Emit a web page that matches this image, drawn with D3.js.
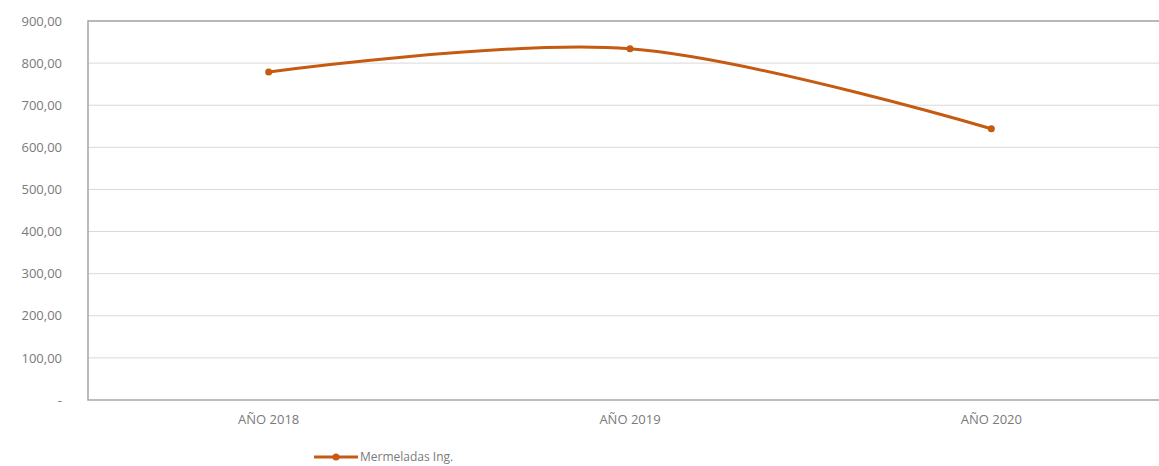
<!DOCTYPE html>
<html>
<head>
<meta charset="utf-8">
<script src="https://cdn.jsdelivr.net/npm/d3@7"></script>
<style>
  body { margin: 0; background: #fff; }
  text { font-family: "Open Sans", "DejaVu Sans", sans-serif; }
</style>
</head>
<body>
<script>
const categories = ["AÑO 2018", "AÑO 2019", "AÑO 2020"]
const seriesName = "Mermeladas Ing."
const seriesValues = [779, 834, 644]
const yTicks = [0, 100, 200, 300, 400, 500, 600, 700, 800, 900]

window.onload = function () {

    const width = 1159, height = 466
    const margin = {top: 21, left: 88, bottom: 66}
    const plotRight = 1172
    const lineColor = "#c55a11"
    const textColor = "#7a7a7a"

    const svg = d3.select('body').append('svg')
        .attr('width', width)
        .attr('height', height)

    const x = d3.scaleBand()
        .domain(categories)
        .range([margin.left, plotRight])

    const y = d3.scaleLinear()
        .domain([0, 900])
        .range([height - margin.bottom, margin.top])

    function fmt(v){
        if (v === 0) return "-"
        return d3.format(",.2f")(v).replace(/,/g, "X").replace(".", ",").replace(/X/g, ".")
    }

    // gridlines
    svg.append('g')
        .selectAll('line')
        .data(yTicks.filter(d => d > 0))
        .join('line')
        .attr('x1', margin.left)
        .attr('x2', plotRight)
        .attr('y1', d => y(d))
        .attr('y2', d => y(d))
        .attr('stroke', '#d9d9d9')
        .attr('stroke-width', 1)

    // plot border
    svg.append('rect')
        .attr('x', margin.left)
        .attr('y', margin.top)
        .attr('width', plotRight - margin.left)
        .attr('height', y(0) - margin.top)
        .attr('fill', 'none')
        .attr('stroke', '#a6a6a6')
        .attr('stroke-width', 1.5)

    // y axis labels
    const yAxis = svg.append('g')
        .attr('transform', getTranslateString(margin.left, 0))
        .call(d3.axisLeft(y).tickValues(yTicks).tickFormat(fmt).tickSize(0).tickPadding(26))
    yAxis.select('.domain').remove()
    yAxis.selectAll('text')
        .style('font-size', '13px')
        .attr('fill', textColor)

    // x axis labels
    const xAxis = svg.append('g')
        .attr('transform', getTranslateString(0, y(0)))
        .call(d3.axisBottom(x).tickSize(0).tickPadding(15))
    xAxis.select('.domain').remove()
    xAxis.selectAll('text')
        .style('font-size', '13px')
        .attr('fill', textColor)

    const points = categories.map((c, i) => ({cat: c, value: seriesValues[i]}))

    const line = d3.line()
        .x(d => x(d.cat) + x.bandwidth() / 2)
        .y(d => y(d.value))
        .curve(d3.curveCatmullRom.alpha(0.5))

    svg.append('path')
        .datum(points)
        .attr('d', line)
        .attr('fill', 'none')
        .attr('stroke', lineColor)
        .attr('stroke-width', 3)

    svg.append('g')
        .selectAll('circle')
        .data(points)
        .join('circle')
        .attr('cx', d => x(d.cat) + x.bandwidth() / 2)
        .attr('cy', d => y(d.value))
        .attr('r', 3.5)
        .attr('fill', lineColor)

    // legend
    const legend = svg.append('g')
        .attr('transform', getTranslateString(314, 457))
    legend.append('line')
        .attr('x1', 0).attr('x2', 44)
        .attr('stroke', lineColor)
        .attr('stroke-width', 3)
    legend.append('circle')
        .attr('cx', 22)
        .attr('r', 3.5)
        .attr('fill', lineColor)
    legend.append('text')
        .attr('x', 46)
        .attr('dy', '0.3em')
        .style('font-size', '12px')
        .attr('fill', textColor)
        .text(seriesName)
}

function getTranslateString(x, y){
    return 'translate(' + x + ',' + y + ')'
}
</script>
</body>
</html>
